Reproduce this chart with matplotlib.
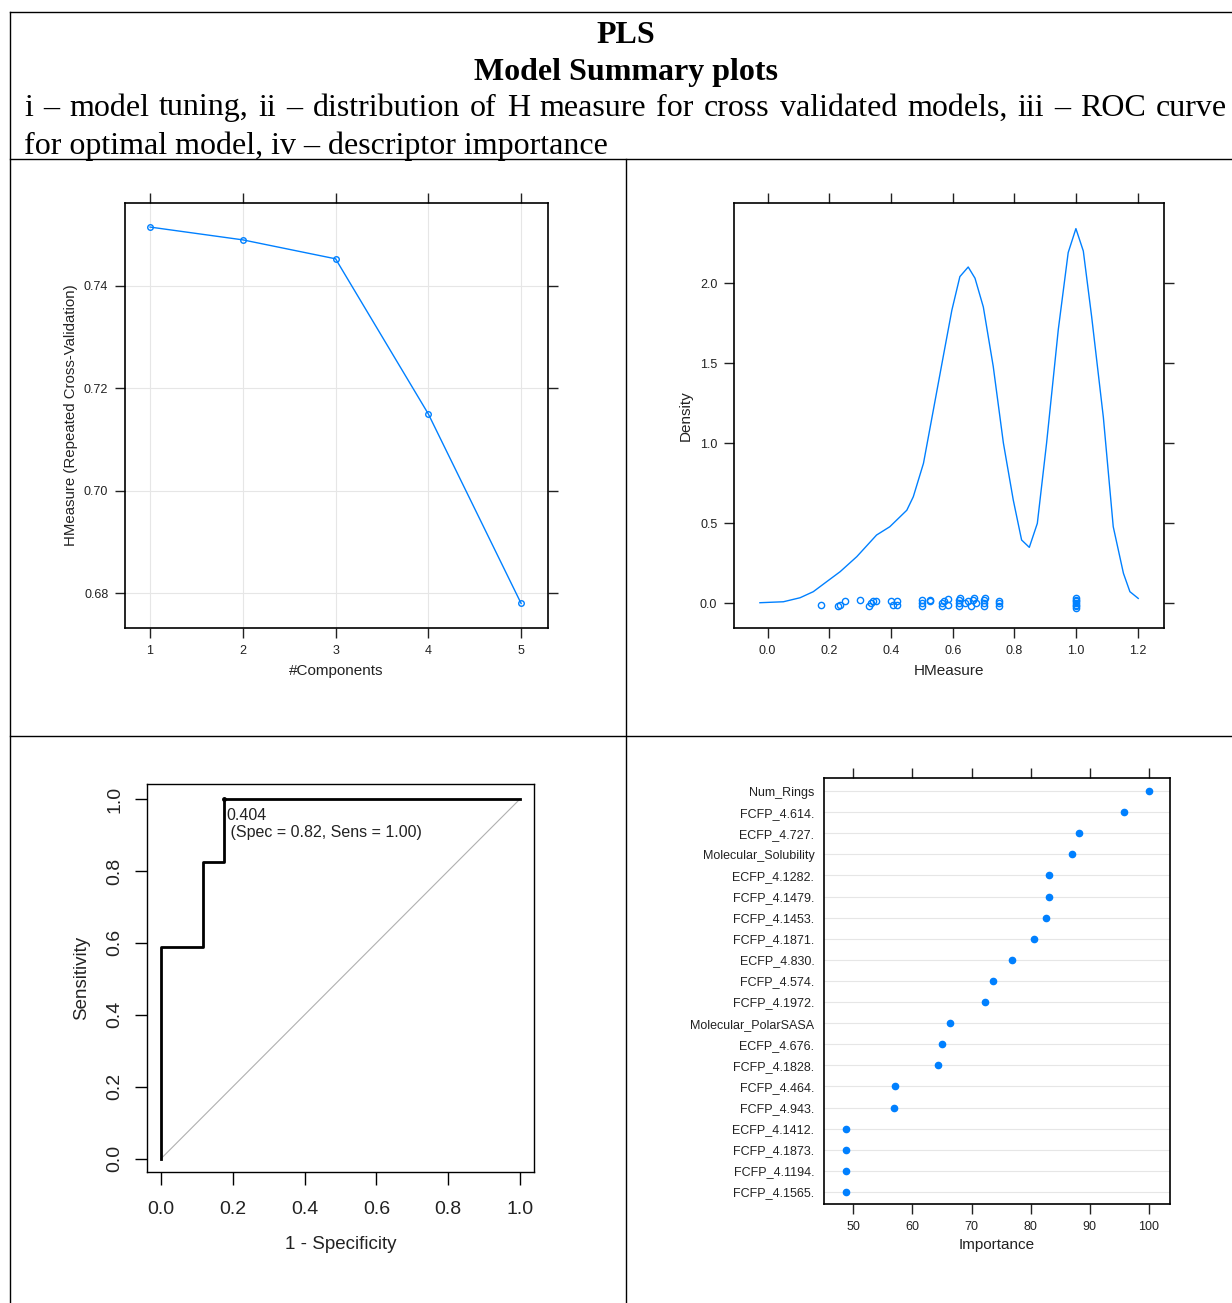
import numpy as np
import matplotlib
matplotlib.use('Agg')
import matplotlib.pyplot as plt
from matplotlib.lines import Line2D

# panel i - model tuning
components = [1, 2, 3, 4, 5]
hmeasure_cv = [0.7515, 0.749, 0.7453, 0.715, 0.678]

# panel ii - density of H measure
dens_x = [-0.025, 0.051, 0.105, 0.148, 0.191, 0.235, 0.289, 0.353, 0.396, 0.451, 0.472, 0.505,
          0.537, 0.569, 0.597, 0.623, 0.650, 0.672, 0.699, 0.731, 0.764, 0.796, 0.823, 0.848,
          0.874, 0.904, 0.942, 0.974, 0.999, 1.023, 1.050, 1.088, 1.120, 1.153, 1.174, 1.201]
dens_y = [0.002, 0.008, 0.033, 0.071, 0.133, 0.196, 0.29, 0.425, 0.477, 0.58, 0.664, 0.873,
          1.206, 1.54, 1.83, 2.04, 2.10, 2.03, 1.85, 1.48, 1.0, 0.644, 0.394, 0.348,
          0.498, 1.0, 1.71, 2.19, 2.34, 2.20, 1.79, 1.16, 0.477, 0.186, 0.071, 0.029]
rug_x = [0.173, 0.228, 0.235, 0.252, 0.30, 0.33, 0.335, 0.34, 0.35, 0.40, 0.405, 0.42, 0.42,
         0.50, 0.50, 0.50, 0.525, 0.525, 0.565, 0.565, 0.57, 0.585, 0.585, 0.62, 0.62, 0.62,
         0.625, 0.64, 0.65, 0.66, 0.665, 0.67, 0.675, 0.70, 0.70, 0.70, 0.705, 0.75, 0.75, 0.75,
         1.0, 1.0, 1.0, 1.0, 1.0, 1.0, 1.0]
rug_y = [-0.015, -0.02, -0.01, 0.015, 0.02, -0.02, 0.0, 0.01, 0.015, 0.01, -0.01, -0.015, 0.01,
         -0.02, 0.0, 0.02, 0.01, 0.02, -0.02, 0.0, 0.015, 0.025, -0.01, -0.02, 0.0, 0.02,
         0.03, 0.0, 0.01, -0.02, 0.02, 0.03, 0.0, -0.02, 0.0, 0.02, 0.03, -0.02, 0.0, 0.015,
         -0.03, -0.02, -0.01, 0.0, 0.01, 0.02, 0.03]

# panel iii - ROC curve
roc_fpr = [0.0, 0.0, 0.118, 0.118, 0.176, 0.176, 1.0]
roc_tpr = [0.0, 0.588, 0.588, 0.824, 0.824, 1.0, 1.0]
best_fpr, best_tpr = 0.176, 1.0

# panel iv - descriptor importance
descriptors = ['Num_Rings', 'FCFP_4.614.', 'ECFP_4.727.', 'Molecular_Solubility', 'ECFP_4.1282.',
               'FCFP_4.1479.', 'FCFP_4.1453.', 'FCFP_4.1871.', 'ECFP_4.830.', 'FCFP_4.574.',
               'FCFP_4.1972.', 'Molecular_PolarSASA', 'ECFP_4.676.', 'FCFP_4.1828.', 'FCFP_4.464.',
               'FCFP_4.943.', 'ECFP_4.1412.', 'FCFP_4.1873.', 'FCFP_4.1194.', 'FCFP_4.1565.']
importance = [100, 95.75, 88.2, 87.06, 83.17, 83.17, 82.6, 80.57, 76.9, 73.6,
              72.2, 66.4, 64.96, 64.3, 57.06, 56.9, 48.7, 48.7, 48.7, 48.7]

W, H = 1232, 1303
BLUE = '#0080ff'
plt.rcParams['font.family'] = ['Liberation Sans', 'DejaVu Sans']

fig = plt.figure(figsize=(W / 100, H / 100), dpi=100)


def px_axes(x0, y0, x1, y1):
    return fig.add_axes([x0 / W, 1 - y1 / H, (x1 - x0) / W, (y1 - y0) / H])


def hline(y, x0, x1):
    fig.add_artist(Line2D([x0 / W, x1 / W], [1 - y / H, 1 - y / H], color='black', lw=1.0))


def vline(x, y0, y1):
    fig.add_artist(Line2D([x / W, x / W], [1 - y0 / H, 1 - y1 / H], color='black', lw=1.0))


# table borders
hline(12, 10, W)
hline(159, 10, W)
hline(736, 10, W)
vline(10, 12, H)
vline(626, 159, H)

# header text
serif = ['Liberation Serif', 'DejaVu Serif']
fs = 23
fig.text(626 / W, 1 - 35.5 / H, 'PLS', ha='center', va='center', fontsize=fs, fontweight='bold', family=serif)
fig.text(626 / W, 1 - 72.5 / H, 'Model Summary plots', ha='center', va='center', fontsize=fs,
         fontweight='bold', family=serif)

# justified line
words = 'i – model tuning, ii – distribution of H measure for cross validated models, iii – ROC curve'.split()
renderer = fig.canvas.get_renderer()
texts = [fig.text(0, 1 - 108 / H, w, ha='left', va='center', fontsize=fs, family=serif) for w in words]
widths = [t.get_window_extent(renderer).width for t in texts]
left, right = 24, 1227
gap = (right - left - sum(widths)) / (len(words) - 1)
xpos = left
for t, w in zip(texts, widths):
    t.set_x(xpos / W)
    xpos += w + gap
fig.text(24 / W, 1 - 146 / H, 'for optimal model, iv – descriptor importance', ha='left', va='center',
         fontsize=fs, family=serif)


def lattice_frame(ax, all_sides=True):
    for s in ax.spines.values():
        s.set_linewidth(1.2)
    ax.tick_params(direction='out', length=7, width=1.0, labelsize=9, color='#222222',
                   labelcolor='#222222', top=all_sides, right=all_sides, labeltop=False, labelright=False)
    ax.tick_params(axis='x', pad=5)
    ax.tick_params(axis='y', pad=5)


# panel i
ax1 = px_axes(125, 203, 548, 628)
ax1.plot(components, hmeasure_cv, color=BLUE, lw=1.0, marker='o', ms=4, mfc='none', mew=1.0)
ax1.set_xlim(0.73, 5.29)
ax1.set_ylim(0.6732, 0.7562)
ax1.set_xticks(components)
ax1.set_yticks([0.68, 0.70, 0.72, 0.74])
ax1.grid(True, color='#e6e6e6', lw=0.8)
ax1.set_axisbelow(True)
lattice_frame(ax1)
ax1.set_xlabel('#Components', fontsize=11, color='#222222', labelpad=5)
ax1.set_ylabel('HMeasure (Repeated Cross-Validation)', fontsize=10.8, color='#222222', labelpad=4)

# panel ii
ax2 = px_axes(734, 203, 1164, 628)
ax2.plot(dens_x, dens_y, color=BLUE, lw=1.0)
ax2.plot(rug_x, rug_y, ls='none', marker='o', ms=4.5, mfc='none', mec=BLUE, mew=1.0)
ax2.set_xlim(-0.109, 1.2845)
ax2.set_ylim(-0.156, 2.5)
ax2.set_xticks([0.0, 0.2, 0.4, 0.6, 0.8, 1.0, 1.2])
ax2.set_yticks([0.0, 0.5, 1.0, 1.5, 2.0])
ax2.xaxis.set_major_formatter(plt.FormatStrFormatter('%.1f'))
ax2.yaxis.set_major_formatter(plt.FormatStrFormatter('%.1f'))
lattice_frame(ax2)
ax2.set_xlabel('HMeasure', fontsize=11, color='#222222', labelpad=5)
ax2.set_ylabel('Density', fontsize=11, color='#222222', labelpad=5)

# panel iii
ax3 = px_axes(147, 784, 534, 1172)
ax3.plot([0, 1], [0, 1], color='#b0b0b0', lw=0.8)
ax3.plot(roc_fpr, roc_tpr, color='black', lw=2.0)
ax3.plot([best_fpr], [best_tpr], 'o', color='black', ms=2.5)
ax3.text(best_fpr + 0.005, best_tpr - 0.025, '0.404\n (Spec = 0.82, Sens = 1.00)', ha='left', va='top',
         fontsize=11.5, linespacing=1.15, color='#222222')
ax3.set_xlim(-0.039, 1.039)
ax3.set_ylim(-0.037, 1.0417)
ticks = [0.0, 0.2, 0.4, 0.6, 0.8, 1.0]
ax3.set_xticks(ticks)
ax3.set_yticks(ticks)
ax3.xaxis.set_major_formatter(plt.FormatStrFormatter('%.1f'))
ax3.yaxis.set_major_formatter(plt.FormatStrFormatter('%.1f'))
for lab in ax3.get_yticklabels():
    lab.set_rotation(90)
    lab.set_va('center')
ax3.tick_params(direction='out', length=9, width=1.0, labelsize=14, labelcolor='#222222')
ax3.tick_params(axis='x', pad=12)
ax3.tick_params(axis='y', pad=8)
for s in ax3.spines.values():
    s.set_linewidth(1.0)
ax3.set_xlabel('1 - Specificity', fontsize=13.5, labelpad=13, color='#222222')
ax3.set_ylabel('Sensitivity', fontsize=13.5, labelpad=12, color='#222222')

# panel iv
ax4 = px_axes(824, 778, 1170, 1204)
ypos = np.arange(len(descriptors), 0, -1)
for y in ypos:
    ax4.axhline(y, color='#e6e6e6', lw=0.8, zorder=0)
ax4.plot(importance, ypos, ls='none', marker='o', ms=4.5, color=BLUE)
ax4.set_xlim(45.04, 103.55)
ax4.set_ylim(0.43, 20.62)
ax4.set_yticks(ypos)
ax4.set_yticklabels(descriptors)
ax4.set_xticks([50, 60, 70, 80, 90, 100])
for s in ax4.spines.values():
    s.set_linewidth(1.2)
ax4.tick_params(axis='x', direction='out', length=7, width=1.0, labelsize=9, pad=5, top=True,
                labeltop=False, color='#222222', labelcolor='#222222')
ax4.tick_params(axis='y', length=0, labelsize=9, pad=7, labelcolor='#222222')
ax4.set_xlabel('Importance', fontsize=11, color='#222222', labelpad=4)

fig.savefig('out.png', dpi=100)
